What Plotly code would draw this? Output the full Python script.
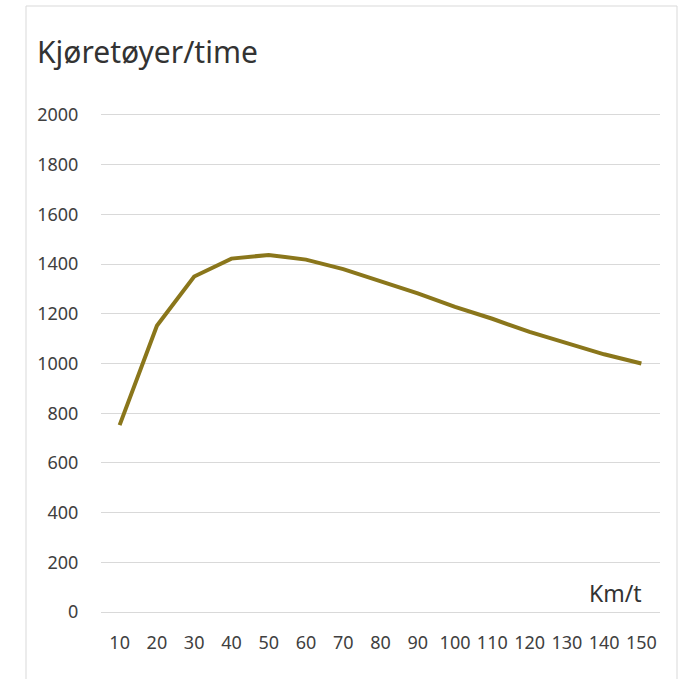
import plotly.graph_objects as go

speeds = ["10", "20", "30", "40", "50", "60", "70", "80", "90", "100", "110", "120", "130", "140", "150"]
vehicles = [752, 1152, 1350, 1422, 1437, 1418, 1380, 1333, 1282, 1228, 1180, 1127, 1082, 1037, 1000]
y_ticks = [0, 200, 400, 600, 800, 1000, 1200, 1400, 1600, 1800, 2000]

W, H = 685, 679
L, R, T, B = 101, 25, 113, 65
pw, ph = W - L - R, H - T - B

def px(x):
    return (x - L) / pw

def py(y):
    return (H - B - y) / ph

FONT = "Noto Sans, Open Sans, sans-serif"
TXT = "#404040"

fig = go.Figure()
fig.add_trace(go.Scatter(
    x=speeds, y=vehicles, mode="lines",
    line=dict(color="#8A761B", width=4),
    hoverinfo="x+y", showlegend=False,
))

fig.update_layout(
    width=W, height=H,
    margin=dict(l=L, r=R, t=T, b=B),
    paper_bgcolor="white", plot_bgcolor="white",
    font=dict(family=FONT, color=TXT, size=18),
    xaxis=dict(
        type="category", showgrid=False, zeroline=False, showline=False,
        ticks="outside", ticklen=12, tickcolor="rgba(0,0,0,0)",
        tickfont=dict(size=18, color=TXT, family=FONT),
        range=[-0.5, len(speeds) - 0.5],
    ),
    yaxis=dict(
        range=[-8, 2008], tickvals=y_ticks, showgrid=True, gridcolor="#D9D9D9",
        gridwidth=1, zeroline=False, showline=False,
        ticks="outside", ticklen=18, tickcolor="rgba(0,0,0,0)",
        tickfont=dict(size=18, color=TXT, family=FONT),
    ),
    shapes=[dict(
        type="rect", xref="paper", yref="paper",
        x0=px(26), x1=px(677), y0=py(700), y1=py(6),
        line=dict(color="#D9D9D9", width=1), fillcolor="rgba(0,0,0,0)", layer="below",
    )],
    annotations=[
        dict(text="Kjøretøyer/time", xref="paper", yref="paper",
             x=px(35), y=py(52), xanchor="left", yanchor="middle",
             showarrow=False, font=dict(size=30, color="#333333", family=FONT)),
        dict(text="Km/t", xref="paper", yref="paper",
             x=px(644), y=py(593), xanchor="right", yanchor="middle",
             showarrow=False, font=dict(size=23, color="#333333", family=FONT)),
    ],
)

fig.write_html("out.html", config={"displayModeBar": False},
               post_script="document.body.style.margin='0';document.body.style.overflow='hidden';")
